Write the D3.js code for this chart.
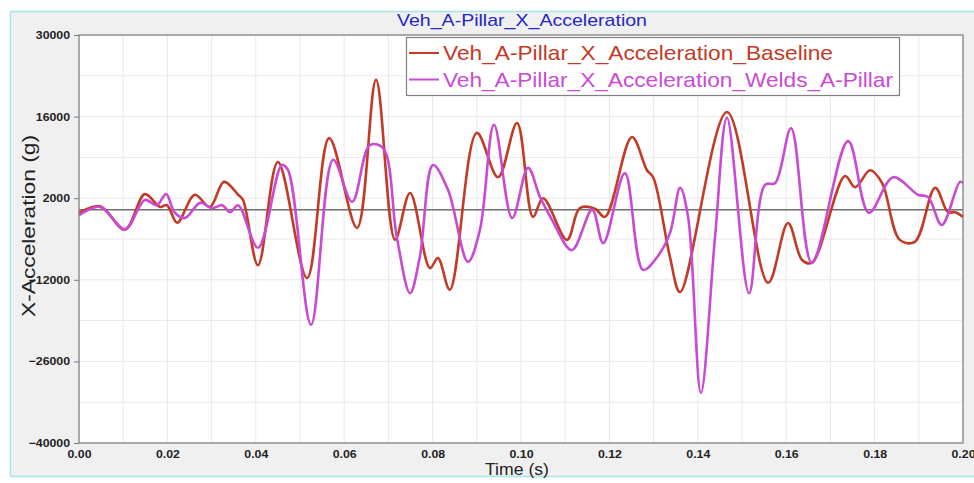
<!DOCTYPE html>
<html><head><meta charset="utf-8">
<script src="https://cdn.jsdelivr.net/npm/d3@7"></script>
<style>
html,body{margin:0;padding:0;background:#fff;}
svg{display:block;}
</style></head>
<body>
<svg id="chart" width="974" height="483"></svg>
<script>
// ---- data ----
const title = "Veh_A-Pillar_X_Acceleration";
const seriesNames = ["Veh_A-Pillar_X_Acceleration_Baseline", "Veh_A-Pillar_X_Acceleration_Welds_A-Pillar"];
const xTicks = [0, 0.02, 0.04, 0.06, 0.08, 0.10, 0.12, 0.14, 0.16, 0.18, 0.20];
const yTicks = [-40000, -26000, -12000, 2000, 16000, 30000];
const baselineTime = [0, 0.0048, 0.0104, 0.0149, 0.0183, 0.0199, 0.0222, 0.0262, 0.0296, 0.0328, 0.0360, 0.0371, 0.0405, 0.0450, 0.0516, 0.0566, 0.0629, 0.0672, 0.0715, 0.0749, 0.0794, 0.0812, 0.0839, 0.0900, 0.0948, 0.0991, 0.1027, 0.1050, 0.1104, 0.1133, 0.1167, 0.1190, 0.1251, 0.1285, 0.1299, 0.1337, 0.1360, 0.1466, 0.1559, 0.1604, 0.1636, 0.1658, 0.1733, 0.1756, 0.1790, 0.1817, 0.1857, 0.1891, 0.1937, 0.1966, 0.1982, 0.2000];
const baselineValue = [-500, 600, -3400, 2700, 500, 800, -2200, 2600, 500, 4800, 2600, 1700, -9500, 8200, -11700, 12300, -3100, 22300, -5100, 2900, -10000, -8250, -13700, 13200, 5600, 14900, -1200, 2000, -5150, 300, 200, -1200, 12500, 6800, 5600, -8100, -14100, 16800, -12500, -2250, -8600, -9100, 5800, 3900, 6800, 4600, -5150, -5500, 3800, -400, -400, -1200];
const weldsTime = [0, 0.0048, 0.0104, 0.0149, 0.0176, 0.0197, 0.0217, 0.0240, 0.0274, 0.0301, 0.0324, 0.0342, 0.0360, 0.0405, 0.0459, 0.0473, 0.0525, 0.0575, 0.0618, 0.0658, 0.0688, 0.0719, 0.0749, 0.0771, 0.0801, 0.0835, 0.0880, 0.0907, 0.0939, 0.0980, 0.1016, 0.1043, 0.1070, 0.1115, 0.1161, 0.1186, 0.1235, 0.1276, 0.1308, 0.1337, 0.1360, 0.1378, 0.1407, 0.1439, 0.1466, 0.1516, 0.1552, 0.1575, 0.1611, 0.1658, 0.1740, 0.1787, 0.1842, 0.1898, 0.1921, 0.1952, 0.1993, 0.2000];
const weldsValue = [-900, 500, -3300, 1700, 800, 2700, -500, -1400, 1200, 300, 800, -400, 800, -6500, 7700, 6800, -19700, 8600, 1400, 11100, 10600, -4650, -14300, -8100, 7700, 3400, -8900, -3450, 14600, -1400, 7200, 2200, -1700, -6900, 0, -5700, 6300, -10300, -8100, -4000, 3800, -1200, -31400, -4650, 15800, -14300, 4300, 4600, 14000, -9100, 11800, -500, 5600, 2600, 2200, -2600, 4800, 4600];

// ---- layout ----
const svg = d3.select("#chart");
const L = 79, R = 963, T = 35, B = 443;
const x = d3.scaleLinear().domain([0, 0.2]).range([L, R]);
const y = d3.scaleLinear().domain([-40000, 30000]).range([B, T]);

// background frame
svg.append("rect").attr("x", 10.5).attr("y", 11.5).attr("width", 980).attr("height", 465)
  .attr("fill", "#f0f0f0").attr("stroke", "#a6e6e6").attr("stroke-width", 1.5);

// plot area
svg.append("rect").attr("x", L).attr("y", T).attr("width", R - L).attr("height", B - T).attr("fill", "#fff");

// grid
const gx = d3.range(0, 21).map(i => i * 0.01);
const gy = d3.range(0, 11).map(i => -40000 + i * 7000);
svg.append("g").selectAll("line").data(gx).join("line")
  .attr("x1", d => x(d)).attr("x2", d => x(d)).attr("y1", T).attr("y2", B)
  .attr("stroke", "#e9e9e9").attr("stroke-width", 1);
svg.append("g").selectAll("line").data(gy).join("line")
  .attr("x1", L).attr("x2", R).attr("y1", d => y(d)).attr("y2", d => y(d))
  .attr("stroke", "#e9e9e9").attr("stroke-width", 1);

// zero line
svg.append("line").attr("x1", L).attr("x2", R).attr("y1", y(0)).attr("y2", y(0))
  .attr("stroke", "#6e6e6e").attr("stroke-width", 1.5);

// series
const line = d3.line().x(d => x(d[0])).y(d => y(d[1])).curve(d3.curveCatmullRom.alpha(0.5));
const bData = baselineTime.map((t, i) => [t, baselineValue[i]]);
const wData = weldsTime.map((t, i) => [t, weldsValue[i]]);
svg.append("path").datum(bData).attr("d", line).attr("fill", "none")
  .attr("stroke", "#c23b26").attr("stroke-width", 2.6).attr("stroke-linejoin", "round");
svg.append("path").datum(wData).attr("d", line).attr("fill", "none")
  .attr("stroke", "#c94bd3").attr("stroke-width", 2.6).attr("stroke-linejoin", "round");

// plot border
svg.append("rect").attr("x", L).attr("y", T).attr("width", R - L).attr("height", B - T)
  .attr("fill", "none").attr("stroke", "#7a7a7a").attr("stroke-width", 1.2);

// axes
const yAxis = svg.append("g").attr("transform", `translate(${L},0)`)
  .call(d3.axisLeft(y).tickValues(yTicks).tickSize(5).tickPadding(3).tickFormat(d3.format("d")));
const xAxis = svg.append("g").attr("transform", `translate(0,${B})`)
  .call(d3.axisBottom(x).tickValues(xTicks).tickSize(0).tickPadding(7).tickFormat(d3.format(".2f")));
[yAxis, xAxis].forEach(g => {
  g.select(".domain").remove();
  g.selectAll("line").attr("stroke", "#7a7a7a");
  g.selectAll("text").attr("font-family", "Liberation Sans, Arial, sans-serif")
    .attr("font-weight", "bold").attr("font-size", 11).attr("fill", "#222");
});
yAxis.selectAll("text").attr("transform", "scale(1.12,1)");
xAxis.selectAll("text").attr("transform", "scale(1.12,1)");

// title
svg.append("text").attr("x", 522).attr("y", 26).attr("text-anchor", "middle")
  .attr("font-family", "Liberation Sans, Arial, sans-serif").attr("font-size", 17)
  .attr("fill", "#2626c4").attr("textLength", 250).attr("lengthAdjust", "spacingAndGlyphs")
  .text(title);

// axis titles
svg.append("text").attr("x", 517).attr("y", 475).attr("text-anchor", "middle")
  .attr("font-family", "Liberation Sans, Arial, sans-serif").attr("font-size", 17)
  .attr("fill", "#222").attr("textLength", 64).attr("lengthAdjust", "spacingAndGlyphs")
  .text("Time (s)");
svg.append("text").attr("transform", "translate(35,226) rotate(-90)").attr("text-anchor", "middle")
  .attr("font-family", "Liberation Sans, Arial, sans-serif").attr("font-size", 19)
  .attr("fill", "#222").attr("textLength", 182).attr("lengthAdjust", "spacingAndGlyphs")
  .text("X-Acceleration (g)");

// legend
const lg = svg.append("g");
lg.append("rect").attr("x", 406.5).attr("y", 37.5).attr("width", 493).attr("height", 58)
  .attr("fill", "#fff").attr("stroke", "#808080").attr("stroke-width", 1.2);
const legendColors = ["#c23b26", "#c94bd3"];
const legendLens = [390, 450];
seriesNames.forEach((name, i) => {
  const yy = 53 + i * 26.5;
  lg.append("line").attr("x1", 409).attr("x2", 439).attr("y1", yy).attr("y2", yy)
    .attr("stroke", legendColors[i]).attr("stroke-width", 2);
  lg.append("text").attr("x", 443).attr("y", yy + 7).attr("font-family", "Liberation Sans, Arial, sans-serif")
    .attr("font-size", 21).attr("fill", legendColors[i])
    .attr("textLength", legendLens[i]).attr("lengthAdjust", "spacingAndGlyphs").text(name);
});
</script>
</body></html>
